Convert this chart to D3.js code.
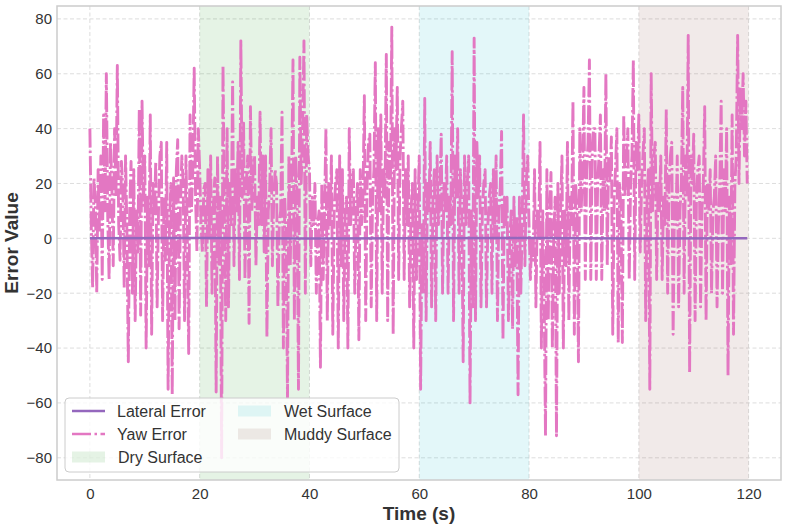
<!DOCTYPE html>
<html>
<head>
<meta charset="utf-8">
<script src="https://cdn.jsdelivr.net/npm/d3@7"></script>
<style>
  body { margin: 0; background: #fff; }
  text { font-family: "Liberation Sans", Arial, sans-serif; fill: #333; }
</style>
</head>
<body>
<svg id="chart" width="786" height="526"></svg>
<script>
/* Yaw error sampled every 0.25 s, read off the reference (4 values per second,
   one row = 10 seconds). */
const STEP = 0.25;
const yawError = [
  40, 5, -18, 22,   12, -20, 25, 3,   30, -15, 45, 10,   60, 8, -15, 35,   20, -10, 40, 15,
  63, 5, -8, 28,    18, -18, 30, 2,   -45, 10, 28, -20,  25, -30, 10, -5,   47, -28, 50, 12,
  30, -40, 15, -10, 45, -35, 20, 8,   28, -25, 10, 30,   35, -30, 15, -8,   35, -55, 5, 20,
  -57, 22, -30, 25, 36, -33, 12, 30,  20, -30, 30, 0,    -42, 45, 10, 25,   62, 15, -5, 40,
  25, 5, -5, 18,    20, -25, 25, 0,   30, -20, 12, 22,   -56, 30, -10, 15,  -80, 63, 10, -30,
  40, -25, 20, 5,   57, -10, 25, 10,  35, -15, 72, 15,   42, -15, 20, 30,   -31, 48, 10, 25,
  30, -10, 15, 5,   46, 5, 30, -5,    30, -36, 10, 18,   40, -10, 15, 25,   20, -25, 5, 10,
  46, -40, 15, 0,   -58, 30, -10, 20, 65, -30, 30, 15,   -55, 66, 20, 40,   72, -20, 45, 30,
  25, -10, 15, 5,   20, -20, 5, 10,   -47, 20, -15, 10,  40, -30, 20, 5,    30, -35, 10, 20,
  25, -40, 30, -10, 25, -30, 10, 15,  -40, 40, 5, 20,    25, -20, 10, 20,   -37, 25, 5, 15,
  52, -30, 20, 35,  38, -25, 15, 25,  64, -30, 40, 10,   45, -20, 25, 15,   67, -30, 35, 20,
  77, -35, 40, 25,  55, -15, 30, 40,  50, -15, 25, 5,    30, -25, 10, 20,   -40, 25, -15, 10,
  30, -55, 5, -20,  51, -30, 20, 10,  35, -25, 15, 25,   -30, 30, 5, 15,    38, -20, 20, 10,
  30, -20, 15, 5,   68, -30, 30, 15,  40, -20, 25, 10,   -45, 30, 5, 20,    30, -60, 10, -25,
  73, -30, 35, 15,  30, -25, 10, 20,  25, -25, 5, 15,    20, -20, 25, 0,    30, -30, 10, 18,
  39, -37, 15, 5,   15, -30, 0, 10,   -33, 15, -10, 8,   -57, 15, -20, 5,   45, -10, 20, 30,
  5, -15, 0, -8,    25, -25, 10, 0,   35, -40, 10, -20,  -72, 25, -30, 10,  24, -40, 0, 15,
  -72, 20, -20, 10, 30, -40, 10, -10, 35, -30, 15, 5,    50, -35, 20, 10,   -45, 40, 10, 25,
  55, -15, 25, 35,  65, -15, 30, 40,  40, -15, 20, 30,   45, -15, 25, 10,   60, -10, 30, 20,
  37, -35, 15, 25,  40, -38, 20, 10,  -38, 45, 15, 30,   40, -15, 20, 30,   65, -15, 35, 25,
  45, -5, 20, 30,   40, -30, 15, 25,  -55, 60, 10, 30,   35, -15, 20, 10,   30, -15, 15, 5,
  47, -20, 20, 30,  35, -35, 15, 5,   30, -25, 10, 20,   55, -20, 30, 15,   74, -49, 30, 20,
  38, -30, 15, 25,  30, -25, 10, 20,  48, -30, 20, 10,   25, -20, 10, 15,   30, -25, 5, 20,
  50, -20, 25, 10,  40, -50, 15, -10, 45, -35, 20, 30,   74, 20, 55, 40,    60, 30, 50, 20
];
const lateralTimes = [0, 20, 40, 60, 80, 100, 119.75];
const lateralError = [0.0, 0.1, -0.1, 0.0, 0.1, -0.1, 0.0];

const surfaceNames = ['Dry Surface', 'Wet Surface', 'Muddy Surface'];
const surfaceStart = [20, 60, 100];
const surfaceEnd = [40, 80, 120];
const surfaceColors = ['#2ca02c', '#17becf', '#8c564b'];

const xTicks = [0, 20, 40, 60, 80, 100, 120];
const yTicks = [-80, -60, -40, -20, 0, 20, 40, 60, 80];

const colors = { lateral: '#9467bd', yaw: '#e377c2', grid: '#d9d9d9', frame: '#cccccc' };

const margin = { left: 57, right: 786 - 781, top: 6, bottom: 526 - 480 };
const width = 786 - margin.left - margin.right;
const height = 526 - margin.top - margin.bottom;

const svg = d3.select('#chart');
const g = svg.append('g').attr('transform', `translate(${margin.left},${margin.top})`);

const x = d3.scaleLinear().domain([-5.99, 125.9]).range([0, width]);
const y = d3.scaleLinear().domain([-88.1, 84.7]).range([height, 0]);

// grid
g.append('g').selectAll('line').data(xTicks).join('line')
  .attr('x1', d => x(d)).attr('x2', d => x(d)).attr('y1', 0).attr('y2', height)
  .attr('stroke', colors.grid).attr('stroke-dasharray', '4,2.5').attr('stroke-width', 0.9);
g.append('g').selectAll('line').data(yTicks).join('line')
  .attr('y1', d => y(d)).attr('y2', d => y(d)).attr('x1', 0).attr('x2', width)
  .attr('stroke', colors.grid).attr('stroke-dasharray', '4,2.5').attr('stroke-width', 0.9);

// surface spans
g.append('g').selectAll('rect').data(surfaceNames).join('rect')
  .attr('x', (d, i) => x(surfaceStart[i]))
  .attr('width', (d, i) => x(surfaceEnd[i]) - x(surfaceStart[i]))
  .attr('y', 0).attr('height', height)
  .attr('fill', (d, i) => surfaceColors[i]).attr('fill-opacity', 0.12);

// yaw error line
const yawPoints = yawError.map((v, i) => [i * STEP, v]);
const line = d3.line().x(d => x(d[0])).y(d => y(d[1]));
g.append('path').datum(yawPoints)
  .attr('d', line)
  .attr('fill', 'none')
  .attr('stroke', colors.yaw)
  .attr('stroke-width', 2.9)
  .attr('stroke-linejoin', 'round')
  .attr('stroke-dasharray', '19,3,2.5,3');

// lateral error line
g.append('path').datum(lateralTimes.map((t, i) => [t, lateralError[i]]))
  .attr('d', line)
  .attr('fill', 'none')
  .attr('stroke', colors.lateral)
  .attr('stroke-width', 2.5);

// frame
g.append('rect').attr('width', width).attr('height', height)
  .attr('fill', 'none').attr('stroke', colors.frame).attr('stroke-width', 1.5);

// axes (labels only, no tick marks)
const xAxis = g.append('g').attr('transform', `translate(0,${height})`)
  .call(d3.axisBottom(x).tickValues(xTicks).tickSize(0).tickPadding(8).tickFormat(d3.format('d')));
const yAxis = g.append('g')
  .call(d3.axisLeft(y).tickValues(yTicks).tickSize(0).tickPadding(5).tickFormat(d3.format('d')));
[xAxis, yAxis].forEach(a => {
  a.select('.domain').remove();
  a.selectAll('text').attr('font-size', 15).attr('fill', '#333')
    .style('font-family', '"Liberation Sans", Arial, sans-serif');
});

svg.append('text')
  .attr('x', margin.left + width / 2).attr('y', 520)
  .attr('text-anchor', 'middle').attr('font-size', 19).attr('font-weight', 'bold')
  .attr('fill', '#222').text('Time (s)');
svg.append('text')
  .attr('transform', `translate(18,${margin.top + height / 2}) rotate(-90)`)
  .attr('text-anchor', 'middle').attr('font-size', 19).attr('font-weight', 'bold')
  .attr('fill', '#222').text('Error Value');

// legend
const legend = svg.append('g').attr('transform', 'translate(65,398)');
legend.append('rect').attr('width', 334).attr('height', 74).attr('rx', 4)
  .attr('fill', '#fff').attr('fill-opacity', 0.8)
  .attr('stroke', '#cccccc').attr('stroke-width', 1);

const rowY = [13, 36, 59];
legend.append('line').attr('x1', 7).attr('x2', 40).attr('y1', rowY[0]).attr('y2', rowY[0])
  .attr('stroke', colors.lateral).attr('stroke-width', 2.5);
legend.append('line').attr('x1', 7).attr('x2', 40).attr('y1', rowY[1]).attr('y2', rowY[1])
  .attr('stroke', colors.yaw).attr('stroke-width', 2.5).attr('stroke-dasharray', '19,3.5,2.5,3.5');
legend.append('text').attr('x', 52).attr('y', rowY[0] + 5.5).attr('font-size', 16).text('Lateral Error');
legend.append('text').attr('x', 52).attr('y', rowY[1] + 5.5).attr('font-size', 16).text('Yaw Error');

const patchPos = [[7, rowY[2]], [173, rowY[0]], [173, rowY[1]]];
surfaceNames.forEach((name, i) => {
  const [px, py] = patchPos[i];
  legend.append('rect').attr('x', px).attr('y', py - 5.5).attr('width', 33).attr('height', 11)
    .attr('fill', surfaceColors[i]).attr('fill-opacity', 0.12);
  legend.append('text').attr('x', px + 46).attr('y', py + 5.5).attr('font-size', 16).text(name);
});
</script>
</body>
</html>
